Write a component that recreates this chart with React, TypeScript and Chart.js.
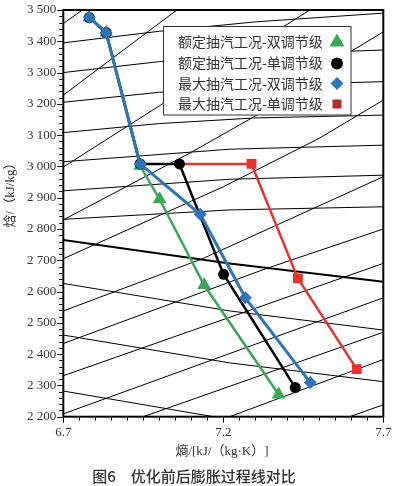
import React, { useEffect, useRef } from 'react';
import { Chart, registerables } from 'chart.js';

Chart.register(...registerables);

// axis ticks
const xTicks = [6.7, 7.2, 7.7];
const yTicks = [2200, 2300, 2400, 2500, 2600, 2700, 2800, 2900, 3000, 3100, 3200, 3300, 3400, 3500];

// legend labels
const seriesNames = ['额定抽汽工况-双调节级', '额定抽汽工况-单调节级', '最大抽汽工况-双调节级', '最大抽汽工况-单调节级'];

// expansion process lines (entropy s, enthalpy h)
const greenS = [6.781, 6.834, 6.94, 7.001, 7.14, 7.373];
const greenH = [3476, 3428, 3002, 2895, 2621, 2271];
const blackS = [6.781, 6.834, 6.94, 7.063, 7.201, 7.425];
const blackH = [3476, 3428, 3008, 3008, 2655, 2293];
const blueS = [6.781, 6.834, 6.94, 7.128, 7.269, 7.472];
const blueH = [3477, 3427, 3008, 2847, 2580, 2309];
const redS = [7.063, 7.288, 7.433, 7.617];
const redH = [3008, 3008, 2642, 2352];

// background Mollier lines, each a list of [s, h]
const isotherms = [
  [[6.7, 3395], [7.0, 3432], [7.3, 3462], [7.7, 3490]],
  [[6.7, 3300], [7.0, 3335], [7.3, 3358], [7.7, 3372]],
  [[6.7, 3205], [7.0, 3237], [7.3, 3259], [7.7, 3271]],
  [[6.7, 3108], [7.0, 3137], [7.3, 3155], [7.7, 3164]],
  [[6.7, 3015], [7.22, 3055], [7.7, 3068]],
  [[6.7, 2922], [7.22, 2959], [7.7, 2972]],
  [[6.7, 2831], [7.22, 2861], [7.7, 2871]],
];
const isobars = [
  [[6.7, 3457], [6.76, 3500]],
  [[6.7, 3228], [7.055, 3500]],
  [[6.7, 2998], [7.47, 3500]],
  [[6.7, 2829], [7.096, 3043], [7.305, 3164], [7.596, 3366], [7.7, 3430]],
  [[6.7, 2705], [7.2, 2935], [7.5, 3090], [7.7, 3212]],
  [[6.7, 2538], [7.135, 2705], [7.7, 2967]],
  [[6.7, 2434], [7.33, 2672], [7.7, 2800]],
  [[6.7, 2331], [7.7, 2690]],
  [[6.7, 2209], [7.7, 2580]],
  [[6.95, 2200], [7.7, 2470]],
  [[7.22, 2200], [7.7, 2383]],
  [[7.595, 2200], [7.7, 2238]],
];
const qualityLines = [
  [[6.7, 2626], [7.22, 2538], [7.7, 2477]],
  [[6.7, 2461], [7.22, 2372], [7.7, 2312]],
  [[6.7, 2282], [7.17, 2200]],
];
const saturationLine = [[6.7, 2765], [7.22, 2690], [7.7, 2631]];

const toPts = (s: number[], h: number[]) => s.map((v, i) => ({ x: v, y: h[i] }));
const linePts = (l: number[][]) => l.map(([x, y]) => ({ x, y }));

const COL = {
  green: '#3aa657',
  black: '#000000',
  blue: '#2e75b6',
  red: '#e8322d',
  legRed: '#b52a31',
};

const fmtY = (v: number) => `${Math.floor(v / 1000)} ${String(v % 1000).padStart(3, '0')}`;

export default function App() {
  const ref = useRef<HTMLCanvasElement>(null);

  useEffect(() => {
    const canvas = ref.current;
    if (!canvas) return;

    const bg: any[] = [];
    isotherms.forEach((l) => bg.push({ data: linePts(l), borderColor: '#000', borderWidth: 1 }));
    isobars.forEach((l) => bg.push({ data: linePts(l), borderColor: '#000', borderWidth: 1 }));
    qualityLines.forEach((l) => bg.push({ data: linePts(l), borderColor: '#000', borderWidth: 1 }));
    bg.push({ data: linePts(saturationLine), borderColor: '#000', borderWidth: 2 });
    const bgSets = bg.map((d) => ({ ...d, showLine: true, pointRadius: 0, order: 10, tension: 0 }));

    const overlay = {
      id: 'overlay',
      afterDatasetsDraw(chart: any) {
        const ctx = chart.ctx as CanvasRenderingContext2D;
        const xs = chart.scales.x;
        const ys = chart.scales.y;
        const { left, right, top, bottom } = chart.chartArea;
        ctx.save();
        // frame
        ctx.strokeStyle = '#000';
        ctx.lineWidth = 2;
        ctx.strokeRect(left, top, right - left, bottom - top);
        // y ticks
        ctx.lineWidth = 1;
        for (let v = 2200; v <= 3500; v += 20) {
          const y = Math.round(ys.getPixelForValue(v)) + 0.5;
          const major = v % 100 === 0;
          ctx.beginPath();
          ctx.moveTo(left - 1, y);
          ctx.lineTo(left - (major ? 6 : 4), y);
          ctx.stroke();
        }
        for (let i = 0; i <= 20; i++) {
          const v = 6.7 + i * 0.05;
          const x = Math.round(xs.getPixelForValue(v)) + 0.5;
          const major = i % 10 === 0;
          ctx.beginPath();
          ctx.moveTo(x, bottom + 1);
          ctx.lineTo(x, bottom + (major ? 6 : 4));
          ctx.stroke();
        }
        // legend
        const lx = 163.5, ly = 26.5, lw = 187.5, lh = 88.5;
        ctx.fillStyle = '#fff';
        ctx.fillRect(lx, ly, lw, lh);
        ctx.strokeStyle = '#333';
        ctx.lineWidth = 1;
        ctx.strokeRect(lx, ly, lw, lh);
        const rows = [41.5, 62.5, 83.5, 104];
        ctx.fillStyle = '#333';
        ctx.font = "14px 'Noto Sans CJK SC'";
        ctx.textAlign = 'left';
        ctx.textBaseline = 'middle';
        seriesNames.forEach((n, i) => ctx.fillText(n, 178, rows[i]));
        const mx = 337;
        // triangle
        ctx.fillStyle = COL.green;
        ctx.beginPath();
        ctx.moveTo(mx, rows[0] - 8);
        ctx.lineTo(mx + 7.5, rows[0] + 5);
        ctx.lineTo(mx - 7.5, rows[0] + 5);
        ctx.closePath();
        ctx.fill();
        // circle
        ctx.fillStyle = COL.black;
        ctx.beginPath();
        ctx.arc(mx, rows[1] + 1, 6, 0, Math.PI * 2);
        ctx.fill();
        // diamond
        ctx.fillStyle = COL.blue;
        ctx.beginPath();
        ctx.moveTo(mx, rows[2] - 6.5);
        ctx.lineTo(mx + 6.5, rows[2]);
        ctx.lineTo(mx, rows[2] + 6.5);
        ctx.lineTo(mx - 6.5, rows[2]);
        ctx.closePath();
        ctx.fill();
        // square
        ctx.fillStyle = COL.legRed;
        ctx.fillRect(mx - 4.5, rows[3] - 4.5, 9, 9);
        ctx.restore();
      },
      afterDraw(chart: any) {
        const ctx = chart.ctx as CanvasRenderingContext2D;
        ctx.save();
        ctx.fillStyle = '#333';
        ctx.textAlign = 'center';
        ctx.textBaseline = 'middle';
        ctx.font = "13px 'Liberation Serif', 'Noto Sans CJK SC'";
        ctx.fillText('熵/[kJ/（kg·K）]', 222, 452);
        ctx.save();
        ctx.translate(11, 192);
        ctx.rotate(-Math.PI / 2);
        ctx.fillText('焓/（kJ/kg）', 0, 0);
        ctx.restore();
        ctx.font = "500 15px 'Noto Sans CJK SC'";
        ctx.fillStyle = '#333';
        ctx.fillText('图6　优化前后膨胀过程线对比', 194, 476);
        ctx.restore();
      },
    };

    const chart = new Chart(canvas, {
      type: 'scatter',
      data: {
        datasets: [
          {
            label: seriesNames[2],
            data: toPts(blueS, blueH),
            showLine: true,
            borderColor: COL.blue,
            backgroundColor: COL.blue,
            borderWidth: 3,
            pointStyle: 'rectRot',
            pointRadius: 6.5,
            pointBorderWidth: 0,
            order: 1,
          },
          {
            label: seriesNames[1],
            data: toPts(blackS, blackH),
            showLine: true,
            borderColor: COL.black,
            backgroundColor: COL.black,
            borderWidth: 2.5,
            pointStyle: 'circle',
            pointRadius: 5.5,
            pointBorderWidth: 0,
            order: 2,
          },
          {
            label: seriesNames[0],
            data: toPts(greenS, greenH),
            showLine: true,
            borderColor: COL.green,
            backgroundColor: COL.green,
            borderWidth: 2.5,
            pointStyle: 'triangle',
            pointRadius: 8,
            pointBorderWidth: 0,
            order: 3,
          },
          {
            label: seriesNames[3],
            data: toPts(redS, redH),
            showLine: true,
            borderColor: COL.red,
            backgroundColor: COL.red,
            borderWidth: 2.5,
            pointStyle: 'rect',
            pointRadius: [0, 7, 7, 7],
            pointBorderWidth: 0,
            order: 4,
          },
          ...bgSets,
        ] as any,
      },
      options: {
        animation: false,
        responsive: false,
        devicePixelRatio: 1,
        events: [],
        layout: { padding: { left: 0, right: 11.7, top: 10, bottom: 39.3 } },
        plugins: { legend: { display: false }, tooltip: { enabled: false } },
        scales: {
          x: {
            type: 'linear',
            min: 6.7,
            max: 7.7,
            grid: { display: false, drawTicks: false },
            border: { display: false },
            afterBuildTicks: (axis: any) => {
              axis.ticks = xTicks.map((v) => ({ value: v }));
            },
            afterFit: (axis: any) => {
              axis.height = 30;
              axis.paddingLeft = 0;
              axis.paddingRight = 0;
            },
            ticks: {
              padding: 8,
              maxRotation: 0,
              autoSkip: false,
              color: '#333',
              font: { family: "'Liberation Serif', serif", size: 13 },
              callback: (v: any) => Number(v).toFixed(1),
            },
          },
          y: {
            type: 'linear',
            min: 2200,
            max: 3500,
            grid: { display: false, drawTicks: false },
            border: { display: false },
            afterBuildTicks: (axis: any) => {
              axis.ticks = yTicks.map((v) => ({ value: v }));
            },
            afterFit: (axis: any) => {
              axis.width = 63.3;
              axis.paddingTop = 0;
              axis.paddingBottom = 0;
            },
            ticks: {
              padding: 7,
              autoSkip: false,
              color: '#333',
              font: { family: "'Liberation Serif', serif", size: 13 },
              callback: (v: any) => fmtY(Number(v)),
            },
          },
        },
      },
      plugins: [overlay],
    } as any);

    return () => chart.destroy();
  }, []);

  return (
    <div style={{ position: 'absolute', left: 0, top: 0, width: 395, height: 486, background: '#fff' }}>
      <canvas ref={ref} width={395} height={486} style={{ display: 'block', width: 395, height: 486 }} />
    </div>
  );
}
